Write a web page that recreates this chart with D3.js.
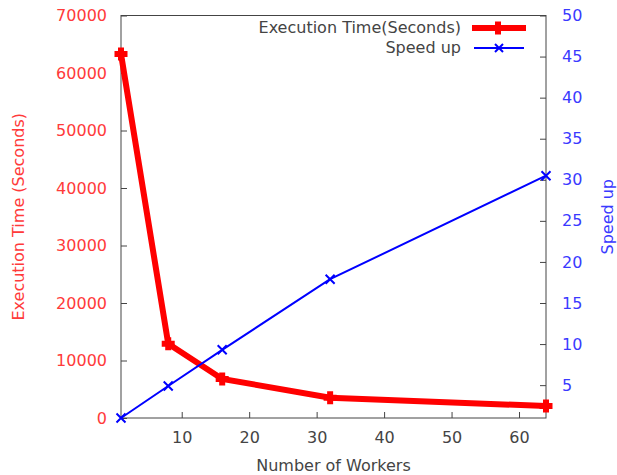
<!DOCTYPE html>
<html><head><meta charset="utf-8">
<script src="https://cdn.jsdelivr.net/npm/d3@7"></script>
<style>body{margin:0;background:#fff}svg{display:block}text{font-family:"DejaVu Sans",sans-serif;font-size:16px}</style>
</head><body>
<script>
const workers = [1, 8, 16, 32, 64];
const execTime = [63300, 12900, 6800, 3540, 2080];
const speedUp = [1, 4.9, 9.3, 17.9, 30.5];
const xTicks = [10, 20, 30, 40, 50, 60];
const yTicks = [0, 10000, 20000, 30000, 40000, 50000, 60000, 70000];
const y2Ticks = [5, 10, 15, 20, 25, 30, 35, 40, 45, 50];
const seriesNames = ["Execution Time(Seconds)", "Speed up"];

const W = 617, H = 475;
const L = 121, R = 546, T = 15.5, B = 418;
const svg = d3.select("body").append("svg").attr("width", W).attr("height", H);

const x = d3.scaleLinear().domain([1, 64]).range([L, R]);
const y = d3.scaleLinear().domain([0, 70000]).range([B, T]);
const y2 = d3.scaleLinear().domain([1, 50]).range([B, T]);

const red = "#ff0000", blue = "#0000ff", redT = "#ff3a3a", blueT = "#3a3aff", gray = "#444";

// axes
const gx = svg.append("g").attr("transform", `translate(0,${B})`)
  .call(d3.axisBottom(x).tickValues(xTicks).tickSize(-6).tickPadding(14).tickFormat(d3.format("d")));
const gy = svg.append("g").attr("transform", `translate(${L},0)`)
  .call(d3.axisLeft(y).tickValues(yTicks).tickSize(-6).tickPadding(14).tickFormat(d3.format("d")));
const gy2 = svg.append("g").attr("transform", `translate(${R},0)`)
  .call(d3.axisRight(y2).tickValues(y2Ticks).tickSize(-6).tickPadding(16).tickFormat(d3.format("d")));
[gx, gy, gy2].forEach(g => { g.select(".domain").remove(); g.selectAll("line").attr("stroke", gray); g.selectAll("text").style("font-size", "16px").style("font-family", "DejaVu Sans"); });
gx.selectAll("text").attr("fill", gray);
gy.selectAll("text").attr("fill", redT);
gy2.selectAll("text").attr("fill", blueT);

svg.append("rect").attr("x", L).attr("y", T).attr("width", R - L).attr("height", B - T)
  .attr("fill", "none").attr("stroke", gray).attr("stroke-width", 1);

// labels
svg.append("text").attr("x", (L + R) / 2).attr("y", 471).attr("text-anchor", "middle").attr("fill", gray).text("Number of Workers");
svg.append("text").attr("transform", `translate(24,${(T + B) / 2}) rotate(-90)`).attr("text-anchor", "middle").attr("fill", redT).text("Execution Time (Seconds)");
svg.append("text").attr("transform", `translate(613,${(T + B) / 2}) rotate(-90)`).attr("text-anchor", "middle").attr("fill", blueT).text("Speed up");

const plusPath = s => `M${-s},0H${s}M0,${-s}V${s}`;
const crossPath = s => `M${-s},${-s}L${s},${s}M${-s},${s}L${s},${-s}`;

// exec time series
const d1 = workers.map((w, i) => [w, execTime[i]]);
svg.append("path").datum(d1).attr("fill", "none").attr("stroke", red).attr("stroke-width", 6).attr("stroke-linejoin", "miter")
  .attr("d", d3.line().x(d => x(d[0])).y(d => y(d[1])));
svg.selectAll(".p1").data(d1).enter().append("path").attr("transform", d => `translate(${x(d[0])},${y(d[1])})`)
  .attr("d", plusPath(6.5)).attr("stroke", red).attr("stroke-width", 6).attr("fill", "none");

// speed up series
const d2 = workers.map((w, i) => [w, speedUp[i]]);
svg.append("path").datum(d2).attr("fill", "none").attr("stroke", blue).attr("stroke-width", 2)
  .attr("d", d3.line().x(d => x(d[0])).y(d => y2(d[1])));
svg.selectAll(".p2").data(d2).enter().append("path").attr("transform", d => `translate(${x(d[0])},${y2(d[1])})`)
  .attr("d", crossPath(4.5)).attr("stroke", blue).attr("stroke-width", 2).attr("fill", "none");

// legend
const lg = svg.append("g");
lg.append("text").attr("x", 461).attr("y", 33).attr("text-anchor", "end").attr("fill", gray).text(seriesNames[0]);
lg.append("line").attr("x1", 472).attr("x2", 526).attr("y1", 28).attr("y2", 28).attr("stroke", red).attr("stroke-width", 6);
lg.append("path").attr("transform", "translate(498,28)").attr("d", plusPath(6.5)).attr("stroke", red).attr("stroke-width", 6);
lg.append("text").attr("x", 461).attr("y", 53).attr("text-anchor", "end").attr("fill", gray).text(seriesNames[1]);
lg.append("line").attr("x1", 474).attr("x2", 524).attr("y1", 48).attr("y2", 48).attr("stroke", blue).attr("stroke-width", 2);
lg.append("path").attr("transform", "translate(499,48)").attr("d", crossPath(4)).attr("stroke", blue).attr("stroke-width", 2);
</script>
</body></html>
